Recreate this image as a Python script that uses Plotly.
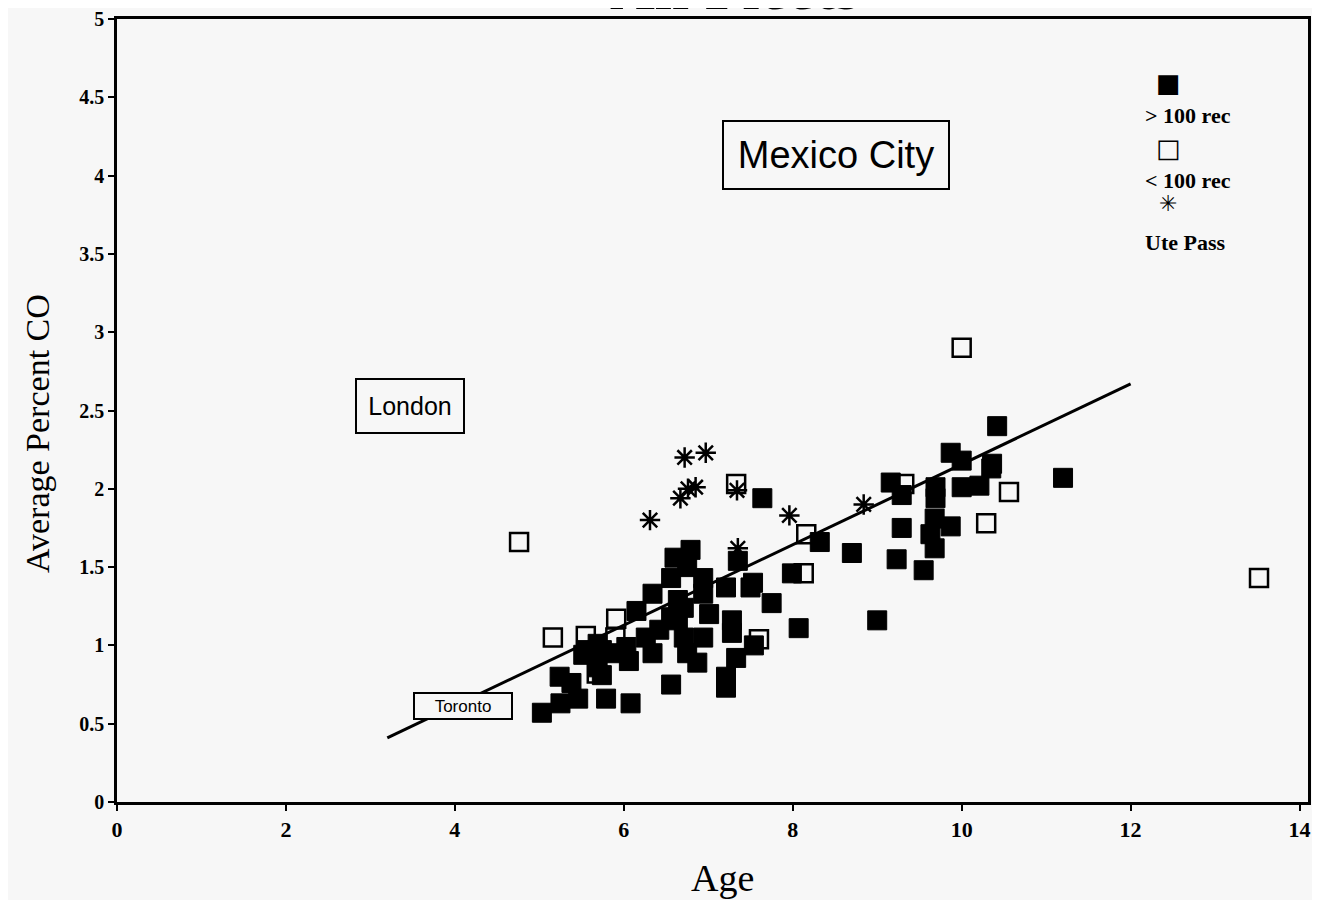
import plotly.graph_objects as go

# ---- data ----
over_x = [5.03, 5.25, 5.24, 5.38, 5.46, 5.79, 6.08, 6.56, 5.52, 5.69, 5.89, 6.06, 6.15, 6.34,
          6.34, 6.56, 6.60, 6.79, 6.94, 7.21, 7.28, 7.28, 7.33, 7.21, 7.21, 7.50, 7.54, 7.35,
          7.64, 7.75, 6.42, 6.64, 6.71, 6.75, 6.94, 6.87, 6.56, 6.26, 6.64, 6.94, 7.01, 6.71,
          5.74, 6.03, 5.74, 6.75, 10.42, 9.87, 10.0, 10.36, 11.2, 9.16, 9.29, 9.69, 9.69, 10.0,
          10.21, 10.35, 9.29, 9.68, 9.87, 9.63, 9.68, 9.23, 9.55, 8.70, 8.32, 9.0, 8.07, 7.99,
          5.56, 5.69, 7.53]
over_y = [0.57, 0.63, 0.80, 0.76, 0.66, 0.66, 0.63, 0.75, 0.94, 0.86, 0.95, 0.90, 1.22, 1.33,
          0.95, 1.43, 1.56, 1.61, 1.43, 1.37, 1.16, 1.08, 0.92, 0.80, 0.73, 1.37, 1.00, 1.54,
          1.94, 1.27, 1.10, 1.16, 1.05, 0.95, 1.05, 0.89, 1.18, 1.05, 1.29, 1.33, 1.20, 1.24,
          0.97, 0.99, 0.81, 1.50, 2.40, 2.23, 2.18, 2.16, 2.07, 2.04, 1.96, 2.01, 1.94, 2.01,
          2.02, 2.13, 1.75, 1.81, 1.76, 1.71, 1.62, 1.55, 1.48, 1.59, 1.66, 1.16, 1.11, 1.46,
          0.97, 1.01, 1.40]

under_x = [13.52, 10.0, 4.76, 5.16, 5.55, 5.91, 5.68, 5.90, 7.33, 8.16, 8.13, 7.60, 10.56, 10.29, 9.32]
under_y = [1.43, 2.90, 1.66, 1.05, 1.06, 1.17, 0.82, 1.05, 2.03, 1.71, 1.46, 1.04, 1.98, 1.78, 2.03]

ute_x = [6.72, 6.97, 6.67, 6.76, 6.85, 6.31, 7.34, 7.96, 8.84, 7.35]
ute_y = [2.20, 2.23, 1.94, 2.00, 2.01, 1.80, 1.99, 1.83, 1.90, 1.62]

fit_x = [3.2, 12.0]
fit_y = [0.41, 2.67]

x_ticks = [0, 2, 4, 6, 8, 10, 12, 14]
y_ticks = [0, 0.5, 1, 1.5, 2, 2.5, 3, 3.5, 4, 4.5, 5]
y_tick_text = ["0", "0.5", "1", "1.5", "2", "2.5", "3", "3.5", "4", "4.5", "5"]

cities = ["Mexico City", "London", "Toronto"]
city_x = [8.51, 3.47, 4.10]
city_y = [4.13, 2.53, 0.61]

legend_labels = ["> 100 rec", "< 100 rec", "Ute Pass"]
title_text = "All Fleets"
x_title = "Age"
y_title = "Average Percent CO"

# ---- layout / style ----
SERIF = "Liberation Serif"
SANS = "Liberation Sans"
BG = "#f7f7f7"
W, H = 1320, 900
ML, MR, MT, MB = 109, 20, 11, 106
PW, PH = W - ML - MR, H - MT - MB
OFF = 8  # page body margin


def px(xp):
    return (xp - OFF - ML) / PW


def py(yp):
    return (H - MB - (yp - OFF)) / PH


city_font = [38, 25, 17]
city_w = [222, 104, 94]
city_h = [64, 50, 22]

fig = go.Figure()

fig.add_trace(go.Scatter(x=fit_x, y=fit_y, mode="lines",
                         line=dict(color="black", width=3), showlegend=False, hoverinfo="skip"))
fig.add_trace(go.Scatter(x=over_x, y=over_y, mode="markers", name=legend_labels[0],
                         marker=dict(symbol="square", size=19, color="black",
                                     line=dict(color="black", width=1)), showlegend=False))
fig.add_trace(go.Scatter(x=under_x, y=under_y, mode="markers", name=legend_labels[1],
                         marker=dict(symbol="square-open", size=18, color="black",
                                     line=dict(color="black", width=2.5)), showlegend=False))
fig.add_trace(go.Scatter(x=ute_x, y=ute_y, mode="markers", name=legend_labels[2],
                         marker=dict(symbol="asterisk-open", size=17, color="black",
                                     line=dict(color="black", width=2.5)), showlegend=False))

for name, cx, cy, fs, bw, bh in zip(cities, city_x, city_y, city_font, city_w, city_h):
    fig.add_annotation(x=cx, y=cy, xref="x", yref="y", text=name, showarrow=False,
                       font=dict(family=SANS, size=fs, color="black"),
                       width=bw, height=bh, align="center", valign="middle",
                       bordercolor="black", borderwidth=2, borderpad=1, bgcolor=BG)

# legend built from text annotations (marker above label)
legend_syms = ["■", "□", "✳"]
sym_size = [26, 26, 22]
sym_py = [83, 148, 203]
lab_py = [115, 181, 242]
for sym, ss, sy, lab, ly in zip(legend_syms, sym_size, sym_py, legend_labels, lab_py):
    fig.add_annotation(x=px(1168), y=py(sy), xref="paper", yref="paper", text=sym, showarrow=False,
                       xanchor="center", yanchor="middle",
                       font=dict(family="DejaVu Sans", size=ss, color="black"))
    fig.add_annotation(x=px(1143), y=py(ly), xref="paper", yref="paper", xanchor="left",
                       yanchor="middle", text="<b>" + lab + "</b>", showarrow=False,
                       font=dict(family=SERIF, size=22, color="black"))

# axis titles
fig.add_annotation(x=px(38), y=py(434), xref="paper", yref="paper", text=y_title, textangle=-90,
                   xanchor="center", yanchor="middle", showarrow=False,
                   font=dict(family=SERIF, size=34, color="black"))
fig.add_annotation(x=px(722), y=py(878), xref="paper", yref="paper", text=x_title,
                   xanchor="center", yanchor="middle", showarrow=False,
                   font=dict(family=SERIF, size=38, color="black"))

fig.update_layout(
    width=W, height=H,
    margin=dict(l=ML, r=MR, t=MT, b=MB),
    paper_bgcolor=BG, plot_bgcolor=BG,
    showlegend=False,
    xaxis=dict(range=[0, 14.1], tickvals=x_ticks, automargin=False,
               ticktext=["<b>" + str(v) + "</b>" for v in x_ticks],
               showgrid=False, zeroline=False, showline=True, linecolor="black", linewidth=2.5,
               mirror=True, ticks="outside", ticklen=6, tickwidth=2, tickcolor="black",
               tickfont=dict(family=SERIF, size=22, color="black")),
    yaxis=dict(range=[0, 5], tickvals=y_ticks, automargin=False,
               ticktext=["<b>" + t + "</b>" for t in y_tick_text],
               showgrid=False, zeroline=False, showline=True, linecolor="black", linewidth=2.5,
               mirror=True, ticks="outside", ticklen=6, tickwidth=2, tickcolor="black",
               tickfont=dict(family=SERIF, size=20, color="black")),
)

# title mostly clipped at the top edge, as in the scan
fig.add_annotation(x=px(735), y=1.0, xref="paper", yref="paper", yshift=-5, yanchor="bottom",
                   xanchor="center", text="<b>" + title_text + "</b>", showarrow=False,
                   font=dict(family=SERIF, size=62, color="black"))

fig.write_html("out.html")
